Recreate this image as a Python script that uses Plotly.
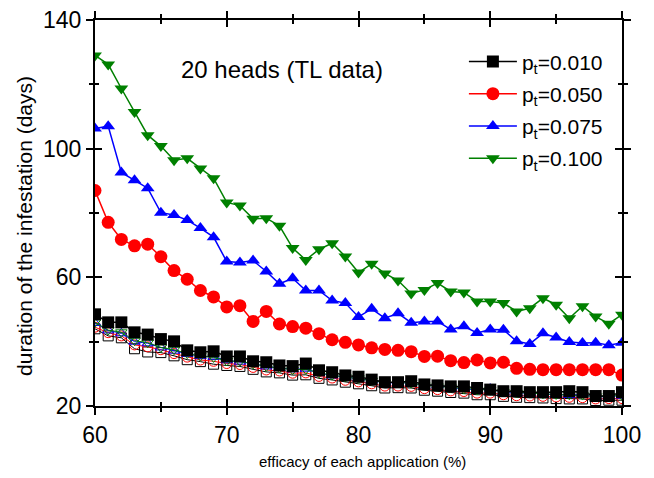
import plotly.graph_objects as go

efficacy = list(range(60, 101))

p010 = [48.5, 46.0, 46.0, 42.9, 42.2, 40.8, 40.1, 37.3, 36.7, 37.0, 35.4, 35.4, 33.9, 33.6, 32.6, 32.4, 33.2, 31.1, 30.5, 29.5, 29.1,
        28.2, 27.4, 27.4, 27.7, 26.7, 26.4, 26.1, 26.1, 25.6, 25.1, 24.6, 24.6, 24.3, 24.3, 24.3, 24.6, 24.3, 23.1, 23.1, 24.3]
p050 = [87.0, 77.1, 71.8, 69.8, 70.3, 66.4, 62.1, 59.4, 55.9, 53.9, 50.8, 51.2, 46.3, 49.4, 45.5, 44.7, 44.2, 42.5, 40.6, 39.8, 39.0,
        38.1, 37.6, 37.3, 36.9, 35.4, 35.5, 34.1, 33.5, 34.3, 33.4, 33.6, 31.7, 31.4, 31.3, 31.3, 31.3, 31.3, 31.3, 31.3, 29.6]
p075 = [106.3, 107.0, 92.6, 90.2, 87.7, 80.1, 79.4, 77.8, 75.3, 72.5, 64.9, 64.6, 65.2, 61.8, 58.0, 59.7, 55.9, 55.9, 52.8, 52.0, 47.7,
        50.2, 47.3, 48.8, 45.9, 46.3, 46.3, 43.8, 44.8, 42.7, 43.8, 43.7, 40.1, 39.3, 42.6, 41.3, 39.9, 39.6, 39.7, 38.9, 39.7]
p100 = [129.0, 126.2, 118.7, 111.4, 104.2, 100.8, 96.4, 97.0, 93.8, 90.8, 83.3, 82.3, 78.2, 78.4, 76.0, 69.1, 65.4, 68.7, 70.6, 66.5, 61.5,
        64.2, 61.2, 59.0, 55.0, 56.1, 58.2, 55.6, 55.3, 52.5, 52.5, 52.0, 49.4, 50.4, 53.5, 51.5, 47.3, 51.0, 47.8, 45.6, 48.4]

# open symbols (second data set)
o010 = [44.0, 41.8, 41.2, 37.8, 36.8, 36.6, 35.6, 34.4, 33.8, 33.0, 32.6, 32.3, 31.4, 30.6, 30.3, 29.6, 29.7, 28.6, 28.1, 27.4, 26.9,
        26.3, 25.6, 25.7, 25.6, 24.9, 24.6, 24.2, 24.0, 23.5, 23.5, 23.0, 22.7, 22.6, 22.5, 22.3, 22.2, 22.2, 21.7, 21.8, 21.8]
o050 = [44.5, 42.8, 41.8, 39.0, 38.4, 37.5, 36.3, 35.2, 34.3, 33.9, 33.2, 32.9, 32.0, 31.2, 30.9, 30.2, 30.3, 29.2, 28.7, 28.0, 27.5,
        26.9, 26.2, 26.2, 26.1, 25.4, 25.1, 24.7, 24.5, 24.0, 24.0, 23.5, 23.2, 23.1, 23.0, 22.8, 22.7, 22.6, 22.2, 22.3, 22.3]
o075 = [45.8, 43.5, 42.6, 40.0, 39.5, 38.2, 37.2, 36.2, 35.5, 35.3, 34.2, 33.8, 33.2, 32.3, 31.8, 31.4, 31.6, 30.2, 29.5, 29.0, 28.6,
        28.0, 27.2, 27.3, 27.2, 26.3, 26.5, 25.7, 25.3, 25.0, 25.4, 24.2, 24.0, 24.1, 23.7, 23.5, 23.4, 23.6, 22.8, 23.0, 23.2]
o100 = [46.0, 43.6, 42.9, 40.3, 39.7, 38.2, 37.5, 36.3, 35.5, 35.1, 34.0, 33.9, 33.1, 32.3, 31.8, 31.3, 31.4, 30.3, 29.6, 29.0, 28.6,
        27.9, 27.3, 27.3, 27.1, 26.4, 26.1, 25.8, 25.3, 25.0, 24.9, 24.4, 24.1, 24.0, 23.8, 23.6, 23.5, 23.4, 23.0, 23.1, 23.3]

names = ["p<sub>t</sub>=0.010", "p<sub>t</sub>=0.050", "p<sub>t</sub>=0.075", "p<sub>t</sub>=0.100"]
colors = ["#000000", "#ff0000", "#0000ff", "#008000"]
symbols = ["square", "circle", "triangle-up", "triangle-down"]
sizes = [12, 13, 12, 12]
filled = [p010, p050, p075, p100]
opened = [o010, o050, o075, o100]

x_title = "efficacy of each application (%)"
y_title = "duration of the infestation (days)"
panel_label = "20 heads (TL data)"

FONT = "Arial, Liberation Sans, sans-serif"

fig = go.Figure()

# open-symbol series first (drawn underneath)
for ys, c, s in zip(opened, colors, symbols):
    fig.add_trace(go.Scatter(
        x=efficacy, y=ys, mode="lines+markers", showlegend=False,
        line=dict(color=c, width=1),
        marker=dict(symbol=s + "-open", size=10, color=c, line=dict(width=1, color=c)),
    ))

# filled series: draw black last so it sits on top
order = [1, 2, 3, 0]
for k in order:
    fig.add_trace(go.Scatter(
        x=efficacy, y=filled[k], mode="lines+markers", name=names[k],
        legendgroup="g%d" % k,
        line=dict(color=colors[k], width=1.5),
        marker=dict(symbol=symbols[k], size=sizes[k], color=colors[k], line=dict(width=0)),
        legendrank=k + 1,
    ))

axis_common = dict(showgrid=False, zeroline=False, linecolor="black", linewidth=2,
                   tickcolor="black", tickwidth=1.5, mirror="allticks", automargin=False,
                   ticklabeloverflow="allow")

fig.update_layout(
    width=654, height=478,
    margin=dict(l=87, r=40, t=12, b=80),
    paper_bgcolor="white", plot_bgcolor="white",
    font=dict(family=FONT, size=23, color="black"),
    xaxis=dict(range=[60, 100], dtick=10, tick0=60, ticks="outside", ticklen=7,
               minor=dict(dtick=5, ticks="outside", ticklen=4, tickcolor="black", tickwidth=1.5),
               tickfont=dict(size=23), **axis_common),
    yaxis=dict(range=[20, 140], dtick=40, tick0=20, ticks="outside", ticklen=7,
               minor=dict(dtick=20, ticks="outside", ticklen=4, tickcolor="black", tickwidth=1.5),
               tickfont=dict(size=23), **axis_common),
    xaxis2=dict(overlaying="x", matches="x", range=[60, 100], dtick=10, tick0=60, ticks="inside", ticklen=7,
                minor=dict(dtick=5, ticks="inside", ticklen=4, tickcolor="black", tickwidth=1.5),
                showticklabels=False, showline=False, showgrid=False, zeroline=False, automargin=False,
                tickcolor="black", tickwidth=1.5, mirror="allticks"),
    yaxis2=dict(overlaying="y", matches="y", range=[20, 140], dtick=40, tick0=20, ticks="inside", ticklen=7,
                minor=dict(dtick=20, ticks="inside", ticklen=4, tickcolor="black", tickwidth=1.5),
                showticklabels=False, showline=False, showgrid=False, zeroline=False, automargin=False,
                tickcolor="black", tickwidth=1.5, mirror="allticks"),
    legend=dict(x=0.70, y=0.945, xanchor="left", yanchor="top", bgcolor="rgba(0,0,0,0)",
                font=dict(size=21), tracegroupgap=2, itemwidth=48),
    annotations=[
        dict(text=panel_label, xref="paper", yref="paper", x=0.355, y=0.872,
             showarrow=False, font=dict(size=24), xanchor="center", yanchor="middle"),
        dict(text=x_title, xref="paper", yref="paper", x=0.507, y=-0.143,
             showarrow=False, font=dict(size=15), xanchor="center", yanchor="middle"),
        dict(text=y_title, xref="paper", yref="paper", x=-0.135, y=0.466, textangle=-90,
             showarrow=False, font=dict(size=21), xanchor="center", yanchor="middle"),
    ],
)

# invisible trace to activate the overlay axes
fig.add_trace(go.Scatter(x=[60], y=[20], xaxis="x2", yaxis="y2", mode="markers",
                         marker=dict(opacity=0), showlegend=False, hoverinfo="skip"))

fig.write_html("out.html")
